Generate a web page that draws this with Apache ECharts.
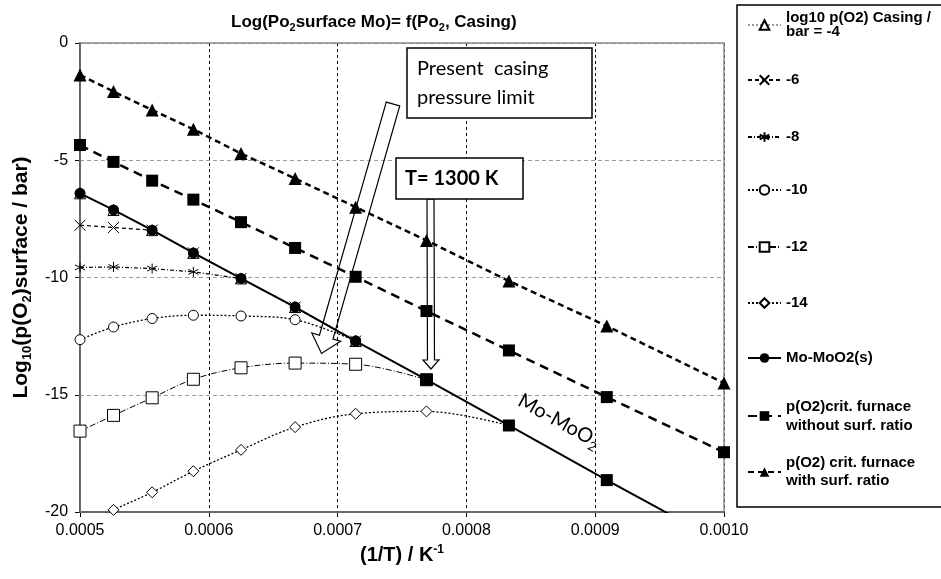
<!DOCTYPE html>
<html>
<head>
<meta charset="utf-8">
<script src="https://cdn.jsdelivr.net/npm/echarts@6/dist/echarts.min.js"></script>
<style>
  html, body { margin: 0; padding: 0; background: #fff; overflow: hidden; }
  #chart { width: 941px; height: 579px; }
</style>
</head>
<body>
<div id="chart"></div>
<script>
// ---------------------------------------------------------------------------
// Data read from the picture : x = 1/T (K^-1), y = log10 p(O2) surface (bar)
var invT = [0.0005, 0.000526, 0.000556, 0.000588, 0.000625, 0.000667, 0.000714, 0.000769, 0.000833, 0.000909, 0.0010];

var casingM4  = [-6.41, -7.12, -7.98, -8.95, -10.04, -11.26, -12.71];
var casingM6  = [-7.77, -7.87, -7.98, -8.95, -10.04, -11.26, -12.71];
var casingM8  = [-9.57, -9.55, -9.62, -9.76, -10.04, -11.26, -12.71];
var casingM10 = [-12.65, -12.11, -11.75, -11.61, -11.64, -11.80, -12.71];
var casingM12 = [-16.55, -15.88, -15.13, -14.34, -13.85, -13.65, -13.70, -14.36];
var casingM14 = [-20.6, -19.91, -19.16, -18.26, -17.35, -16.38, -15.81, -15.71, -16.31];
var moMoO2    = [-6.41, -7.12, -7.98, -8.95, -10.04, -11.26, -12.71, -14.36, -16.31, -18.64, -21.36];
var critNoSurf   = [-4.35, -5.07, -5.87, -6.68, -7.64, -8.74, -9.97, -11.43, -13.11, -15.10, -17.45];
var critWithSurf = [-1.36, -2.07, -2.86, -3.68, -4.71, -5.78, -7.00, -8.42, -10.15, -12.07, -14.50];

var xTicks = [0.0005, 0.0006, 0.0007, 0.0008, 0.0009, 0.0010];
var yTicks = [-20, -15, -10, -5, 0];

var seriesNames = [
  'log10 p(O2) Casing /\nbar = -4', '-6', '-8', '-10', '-12', '-14',
  'Mo-MoO2(s)', 'p(O2)crit. furnace\nwithout surf. ratio', 'p(O2) crit. furnace\nwith surf. ratio'
];

// ---------------------------------------------------------------------------
var fontFamily = '"Liberation Sans", Arial, sans-serif';
var noteFont = 'Lato, "Open Sans", sans-serif';

function pairs(ys) {
  return ys.map(function (y, i) { return [invT[i], y]; });
}

// chemin en étoile (astérisque) et croix pour les marqueurs
var starPath = 'path://M5,0 L5,10 M0.7,2.5 L9.3,7.5 M0.7,7.5 L9.3,2.5';
var crossPath = 'path://M0,0 L10,10 M0,10 L10,0';

function lineSerie(name, data, opt) {
  return {
    name: name,
    type: 'line',
    data: data,
    symbol: opt.symbol,
    symbolSize: opt.size,
    smooth: opt.smooth || false,
    clip: true,
    lineStyle: { color: opt.lineColor || '#000', width: opt.width, type: opt.dash },
    itemStyle: opt.item,
    emphasis: { disabled: true }
  };
}

// Mo-MoO2 : les trois derniers points confondus sont affichés en carrés pleins
var moData = pairs(moMoO2).map(function (p, i) {
  if (i >= 7 && i <= 9) {
    return { value: p, symbol: 'rect', symbolSize: 12 };
  }
  return p;
});

var series = [
  lineSerie(seriesNames[0], pairs(casingM4), {
    symbol: 'triangle', size: 11, width: 1, dash: [2, 2], lineColor: '#999',
    item: { color: '#fff', borderColor: '#000', borderWidth: 1 }
  }),
  lineSerie(seriesNames[1], pairs(casingM6), {
    symbol: crossPath, size: 11, width: 1.2, dash: [4, 3],
    item: { color: 'transparent', borderColor: '#000', borderWidth: 1 }
  }),
  lineSerie(seriesNames[2], pairs(casingM8), {
    symbol: starPath, size: 10, width: 1.2, dash: [4, 2, 1, 2],
    item: { color: 'transparent', borderColor: '#000', borderWidth: 1 }
  }),
  lineSerie(seriesNames[3], pairs(casingM10), {
    symbol: 'circle', size: 10, width: 1.3, dash: [2, 2], smooth: 0.35,
    item: { color: '#fff', borderColor: '#000', borderWidth: 1 }
  }),
  lineSerie(seriesNames[4], pairs(casingM12), {
    symbol: 'rect', size: 12, width: 1, dash: [6, 2, 1, 2], smooth: 0.35,
    item: { color: '#fff', borderColor: '#000', borderWidth: 1 }
  }),
  lineSerie(seriesNames[5], pairs(casingM14), {
    symbol: 'diamond', size: 11, width: 1.3, dash: [2, 2], smooth: 0.35,
    item: { color: '#fff', borderColor: '#000', borderWidth: 1 }
  }),
  lineSerie(seriesNames[6], moData, {
    symbol: 'circle', size: 11, width: 2, dash: 'solid',
    item: { color: '#000', borderColor: '#000', borderWidth: 0 }
  }),
  lineSerie(seriesNames[7], pairs(critNoSurf), {
    symbol: 'rect', size: 12, width: 2.5, dash: [9, 6],
    item: { color: '#000', borderWidth: 0 }
  }),
  lineSerie(seriesNames[8], pairs(critWithSurf), {
    symbol: 'triangle', size: 13, width: 2.5, dash: [6, 4],
    item: { color: '#000', borderWidth: 0 }
  })
];

// =====================================================================================================================
// LEGENDE : une légende par entrée pour caler chaque ligne
var legendRows = [
  { cy: 25, lh: 14, lines: 2 },
  { cy: 80, lh: 18, lines: 1 },
  { cy: 137, lh: 18, lines: 1 },
  { cy: 190, lh: 18, lines: 1 },
  { cy: 247, lh: 18, lines: 1 },
  { cy: 303, lh: 18, lines: 1 },
  { cy: 358, lh: 18, lines: 1 },
  { cy: 416, lh: 19, lines: 2 },
  { cy: 472, lh: 18, lines: 2 }
];
var legends = legendRows.map(function (row, i) {
  var top = row.lines > 1 ? row.cy - 1.5 * row.lh : row.cy - Math.max(6, row.lh / 2);
  return {
    data: [seriesNames[i]],
    orient: 'vertical',
    left: 747,
    top: top,
    padding: 0,
    itemWidth: 33,
    itemHeight: 12,
    itemGap: 0,
    selectedMode: false,
    textStyle: {
      fontFamily: fontFamily,
      fontSize: 15,
      fontWeight: 'bold',
      color: '#000',
      lineHeight: row.lh,
      padding: row.lines > 1 ? [row.lh, 0, 0, 0] : 0
    }
  };
});

function arrowShape(x1, y1, x2, y2, w, hw, hl) {
  var dx = x2 - x1, dy = y2 - y1;
  var len = Math.sqrt(dx * dx + dy * dy);
  var ux = dx / len, uy = dy / len, px = -uy, py = ux;
  var bx = x2 - ux * hl, by = y2 - uy * hl;
  return [
    [x1 + px * w, y1 + py * w], [bx + px * w, by + py * w], [bx + px * hw, by + py * hw],
    [x2, y2],
    [bx - px * hw, by - py * hw], [bx - px * w, by - py * w], [x1 - px * w, y1 - py * w]
  ];
}

var chart = echarts.init(document.getElementById('chart'), null, { renderer: 'canvas' });

var option = {
  animation: false,
  backgroundColor: '#fff',
  title: {
    text: 'Log(Po{sub|2}surface Mo)= f(Po{sub|2}, Casing)',
    left: 226,
    top: 6,
    textStyle: {
      fontFamily: fontFamily, fontSize: 17, fontWeight: 'bold', color: '#000', lineHeight: 22,
      rich: { sub: { fontFamily: fontFamily, fontSize: 11, fontWeight: 'bold', verticalAlign: 'bottom', lineHeight: 22, padding: [6, 0, 0, 0] } }
    }
  },
  grid: { left: 80, right: 217, top: 43, bottom: 67, show: true, borderColor: '#8a8a8a', borderWidth: 1.5, z: 3 },
  legend: legends,
  xAxis: {
    type: 'value',
    min: xTicks[0],
    max: xTicks[xTicks.length - 1],
    interval: 0.0001,
    name: '(1/T) / K{sup|-1}',
    nameLocation: 'middle',
    nameGap: 31,
    nameTextStyle: {
      fontFamily: fontFamily, fontSize: 20, fontWeight: 'bold', color: '#000', lineHeight: 24,
      rich: { sup: { fontFamily: fontFamily, fontSize: 12, fontWeight: 'bold', verticalAlign: 'top', lineHeight: 24 } }
    },
    axisLine: { onZero: false, lineStyle: { color: '#000', width: 2 } },
    axisTick: { show: true, length: 5, lineStyle: { color: '#000' } },
    axisLabel: {
      fontFamily: fontFamily, fontSize: 16, color: '#000', margin: 11,
      formatter: function (v) { return v.toFixed(4); }
    },
    splitLine: { show: true, lineStyle: { color: '#000', width: 1, type: [3, 3] } }
  },
  yAxis: {
    type: 'value',
    min: yTicks[0],
    max: yTicks[yTicks.length - 1],
    interval: 5,
    name: 'Log{sub|10}(p(O{sub|2})surface / bar)',
    nameLocation: 'middle',
    nameGap: 43,
    nameTextStyle: {
      fontFamily: fontFamily, fontSize: 21, fontWeight: 'bold', color: '#000', lineHeight: 26,
      rich: { sub: { fontFamily: fontFamily, fontSize: 13, fontWeight: 'bold', verticalAlign: 'bottom', lineHeight: 26 } }
    },
    axisLine: { onZero: false, lineStyle: { color: '#000', width: 2 } },
    axisTick: { show: true, length: 5, lineStyle: { color: '#000' } },
    axisLabel: { fontFamily: fontFamily, fontSize: 16, color: '#000', margin: 12 },
    splitLine: { show: true, lineStyle: { color: '#9a9a9a', width: 1, type: [4, 3] } }
  },
  series: series,
  graphic: [
    // cadre de la légende (déborde à droite comme sur l'original)
    { type: 'rect', z: 0, shape: { x: 737, y: 5, width: 300, height: 502 },
      style: { fill: '#fff', stroke: '#000', lineWidth: 1.5 } },
    // flèche oblique (limite de pression du casing)
    { type: 'polygon', z: 10, shape: { points: arrowShape(393, 104, 321.5, 353.5, 7, 15, 17) },
      style: { fill: 'none', stroke: '#000', lineWidth: 1.2 } },
    // flèche verticale T = 1300 K
    { type: 'polygon', z: 10, shape: { points: arrowShape(430.5, 199, 431, 369, 3.5, 8, 9) },
      style: { fill: 'none', stroke: '#000', lineWidth: 1.2 } },
    { type: 'rect', z: 11, shape: { x: 407, y: 48, width: 185, height: 70 },
      style: { fill: '#fff', stroke: '#000', lineWidth: 1.5 } },
    { type: 'text', z: 12, x: 417, y: 83,
      style: { text: 'Present  casing\npressure limit', font: '20px ' + noteFont, fill: '#000',
        lineHeight: 29, textAlign: 'left', textVerticalAlign: 'middle' } },
    { type: 'rect', z: 11, shape: { x: 396, y: 158, width: 127, height: 41 },
      style: { fill: '#fff', stroke: '#000', lineWidth: 1.5 } },
    { type: 'text', z: 12, x: 405, y: 179,
      style: { text: 'T= 1300 K', font: 'bold 20px ' + noteFont, fill: '#000',
        textAlign: 'left', textVerticalAlign: 'middle' } },
    // étiquette de la droite Mo-MoO2
    { type: 'text', z: 12, x: 559, y: 421, rotation: -0.505,
      style: { text: 'Mo-MoO{sub|2}', font: '20px ' + noteFont, fill: '#000',
        textAlign: 'center', textVerticalAlign: 'middle',
        rich: { sub: { font: '13px ' + noteFont, fill: '#000', verticalAlign: 'bottom', lineHeight: 26 } } } }
  ]
};

chart.setOption(option);
</script>
</body>
</html>
